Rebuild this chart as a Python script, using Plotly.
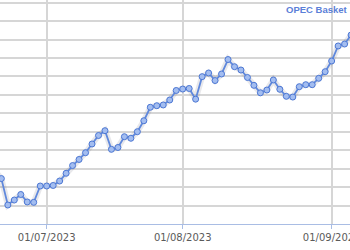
import plotly.graph_objects as go

dates = [
    "2023-06-21", "2023-06-22", "2023-06-23", "2023-06-26", "2023-06-27", "2023-06-28", "2023-06-29", "2023-06-30",
    "2023-07-03", "2023-07-04", "2023-07-05", "2023-07-06", "2023-07-07",
    "2023-07-10", "2023-07-11", "2023-07-12", "2023-07-13", "2023-07-14",
    "2023-07-17", "2023-07-18", "2023-07-19", "2023-07-20", "2023-07-21",
    "2023-07-24", "2023-07-25", "2023-07-26", "2023-07-27", "2023-07-28",
    "2023-07-31", "2023-08-01", "2023-08-02", "2023-08-03", "2023-08-04",
    "2023-08-07", "2023-08-08", "2023-08-09", "2023-08-10", "2023-08-11",
    "2023-08-14", "2023-08-15", "2023-08-16", "2023-08-17", "2023-08-18",
    "2023-08-21", "2023-08-22", "2023-08-23", "2023-08-24", "2023-08-25",
    "2023-08-28", "2023-08-29", "2023-08-30", "2023-08-31", "2023-09-01",
    "2023-09-04", "2023-09-05", "2023-09-06",
]
opec_basket = [
    77.75, 76.93, 74.06, 74.60, 75.20, 74.39, 74.35, 76.12,
    76.12, 76.18, 76.66, 77.50, 78.34,
    79.00, 79.73, 80.68, 81.60, 82.12,
    80.10, 80.30, 81.47, 81.30, 82.01,
    83.20, 84.66, 84.83, 84.91, 85.45,
    86.48, 86.64, 86.70, 85.54, 87.98,
    88.38, 87.56, 88.27, 89.84, 89.06,
    88.70, 87.89, 87.04, 86.23, 86.53,
    87.62, 86.61, 85.85, 85.77, 86.89,
    87.11, 87.11, 87.80, 88.52, 89.68,
    91.31, 91.52, 92.50,
]
tick_dates = ["2023-07-03", "2023-08-01", "2023-09-01"]
tick_labels = ["01/07/2023", "01/08/2023", "01/09/2023"]
series_name = "OPEC Basket"

fig = go.Figure()
# soft glow under the line
fig.add_trace(go.Scatter(
    x=dates, y=opec_basket, mode="lines",
    line=dict(color="rgba(110,110,130,0.16)", width=6),
    hoverinfo="skip", showlegend=False,
))
fig.add_trace(go.Scatter(
    x=dates, y=opec_basket, mode="lines+markers", name=series_name,
    line=dict(color="#5f88dc", width=1.8),
    marker=dict(size=6, color="#a3bdf0", line=dict(color="#4d78d4", width=1)),
    showlegend=False,
))

fig.add_annotation(
    text=series_name, xref="paper", yref="paper",
    x=349 / 350, y=(224 - 10) / 224, xanchor="right", yanchor="middle",
    showarrow=False, borderpad=0,
    font=dict(family="Liberation Sans", size=9.5, color="#5b80d8", weight="bold"),
)

fig.update_layout(
    width=350, height=250,
    margin=dict(l=0, r=0, t=0, b=26, autoexpand=False),
    paper_bgcolor="white", plot_bgcolor="white",
    xaxis=dict(
        type="date",
        range=["2023-06-21 19:00", "2023-09-05 20:00"],
        rangebreaks=[dict(bounds=["sat", "mon"])],
        tickvals=tick_dates, ticktext=tick_labels,
        ticklabeloverflow="allow", automargin=False,
        showgrid=True, gridcolor="#d6d6d6", gridwidth=1.5,
        showline=True, linecolor="#a9bde4", linewidth=1,
        ticks="outside", ticklen=4, tickcolor="#a9bde4",
        tickfont=dict(family="DejaVu Sans", size=10, color="#5a5a5a"),
        zeroline=False, fixedrange=True,
    ),
    yaxis=dict(
        range=[72, 72 + 224 / 18.44 * 2],
        dtick=2, tick0=72, automargin=False,
        showgrid=True, gridcolor="#d6d6d6", gridwidth=1.5,
        showticklabels=False, zeroline=False, showline=False,
        fixedrange=True,
    ),
)

fig.write_html("out.html")
